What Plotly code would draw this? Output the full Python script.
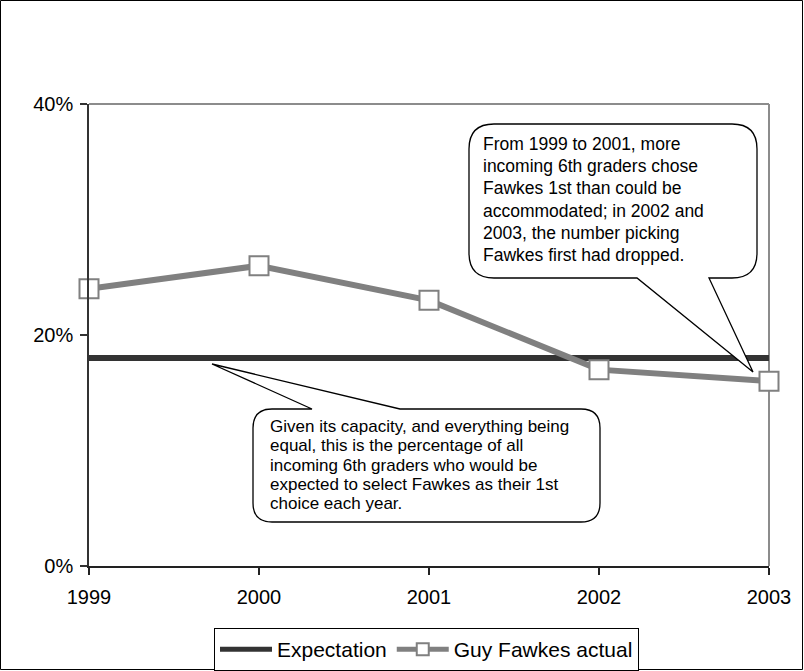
import plotly.graph_objects as go

years = [1999, 2000, 2001, 2002, 2003]
year_labels = ["1999", "2000", "2001", "2002", "2003"]
expectation = [0.18, 0.18, 0.18, 0.18, 0.18]
guy_fawkes = [0.24, 0.26, 0.23, 0.17, 0.16]
y_ticks = [0, 0.2, 0.4]

upper_text = [
    "From 1999 to 2001, more",
    "incoming 6th graders chose",
    "Fawkes 1st than could be",
    "accommodated; in 2002 and",
    "2003, the number picking",
    "Fawkes first had dropped.",
]
lower_text = [
    "Given its capacity, and everything being",
    "equal, this is the percentage of all",
    "incoming 6th graders who would be",
    "expected to select Fawkes as their 1st",
    "choice each year.",
]

FONT = "Liberation Sans, Arial, sans-serif"
W, H = 804, 671
L, R, T, B = 89, 769, 104, 566


def px(x):
    return (x - L) / (R - L)


def py(y):
    return (B - y) / (B - T)


def pt(x, y):
    return f"{px(x):.5f},{py(y):.5f}"


def callout(x0, y0, x1, y1, r, side, bx0, bx1, tx, ty):
    p = [f"M{pt(x0 + r, y0)}"]
    if side == "top":
        p += [f"L{pt(bx0, y0)}", f"L{pt(tx, ty)}", f"L{pt(bx1, y0)}"]
    p += [f"L{pt(x1 - r, y0)}", f"Q{pt(x1, y0)} {pt(x1, y0 + r)}"]
    p += [f"L{pt(x1, y1 - r)}", f"Q{pt(x1, y1)} {pt(x1 - r, y1)}"]
    if side == "bottom":
        p += [f"L{pt(bx1, y1)}", f"L{pt(tx, ty)}", f"L{pt(bx0, y1)}"]
    p += [f"L{pt(x0 + r, y1)}", f"Q{pt(x0, y1)} {pt(x0, y1 - r)}"]
    p += [f"L{pt(x0, y0 + r)}", f"Q{pt(x0, y0)} {pt(x0 + r, y0)}", "Z"]
    return " ".join(p)


fig = go.Figure()
fig.add_trace(go.Scatter(
    x=years, y=expectation, name="Expectation", mode="lines",
    line=dict(color="#333333", width=6), cliponaxis=False,
))
fig.add_trace(go.Scatter(
    x=years, y=guy_fawkes, name="Guy Fawkes actual", mode="lines+markers",
    line=dict(color="#808080", width=6),
    marker=dict(symbol="square", size=19, color="white",
                line=dict(color="#808080", width=2)),
    cliponaxis=False,
))

shapes = []
shapes.append(dict(type="rect", xref="paper", yref="paper",
                   x0=px(0.5), x1=px(W - 1.5), y0=py(0.5), y1=py(H - 1.5),
                   line=dict(color="black", width=1), layer="below"))
shapes.append(dict(type="line", xref="paper", yref="paper", x0=0, x1=1, y0=1, y1=1,
                   line=dict(color="#8c8c8c", width=2), layer="below"))
shapes.append(dict(type="line", xref="paper", yref="paper", x0=1, x1=1, y0=0, y1=1,
                   line=dict(color="#8c8c8c", width=2), layer="below"))
shapes.append(dict(type="path", xref="paper", yref="paper",
                   path=callout(469, 124, 757, 278, 25, "bottom", 637, 709, 753, 372),
                   line=dict(color="black", width=1.3), fillcolor="white", layer="above"))
shapes.append(dict(type="path", xref="paper", yref="paper",
                   path=callout(253, 409, 600, 522, 19, "top", 312, 400, 212, 364),
                   line=dict(color="black", width=1.3), fillcolor="white", layer="above"))

annotations = []
for i, s in enumerate(upper_text):
    annotations.append(dict(xref="paper", yref="paper", x=px(481), y=py(144 + 22.2 * i),
                            xanchor="left", yanchor="middle", text=s, showarrow=False,
                            font=dict(family=FONT, size=17.5, color="black")))
for i, s in enumerate(lower_text):
    annotations.append(dict(xref="paper", yref="paper", x=px(268), y=py(426.5 + 19.3 * i),
                            xanchor="left", yanchor="middle", text=s, showarrow=False,
                            font=dict(family=FONT, size=17, color="black")))

fig.update_layout(
    width=W, height=H,
    margin=dict(l=L, r=W - R, t=T, b=H - B, pad=0, autoexpand=False),
    paper_bgcolor="white", plot_bgcolor="white",
    font=dict(family=FONT, size=20, color="black"),
    showlegend=True,
    legend=dict(orientation="h", x=px(214), y=py(649.5), xanchor="left", yanchor="middle",
                bordercolor="black", borderwidth=1, bgcolor="white",
                font=dict(family=FONT, size=21, color="black"),
                itemsizing="constant", tracegroupgap=0, itemwidth=52),
    shapes=shapes, annotations=annotations,
    xaxis=dict(range=[1999, 2003], tickvals=years, ticktext=year_labels,
               showgrid=False, zeroline=False, showline=True, linecolor="#222222",
               linewidth=1.5, ticks="outside", ticklen=7, tickcolor="#222222",
               tickwidth=1.5, ticklabelstandoff=5, fixedrange=True),
    yaxis=dict(range=[0, 0.4], tickvals=y_ticks, tickformat=".0%",
               showgrid=False, zeroline=False, showline=True, linecolor="#333333",
               linewidth=1.5, ticks="outside", ticklen=7, tickcolor="#333333",
               tickwidth=1.5, ticklabelstandoff=3, fixedrange=True),
)

fig.write_html("out.html", config={"displayModeBar": False},
               post_script="document.body.style.margin='0';")
